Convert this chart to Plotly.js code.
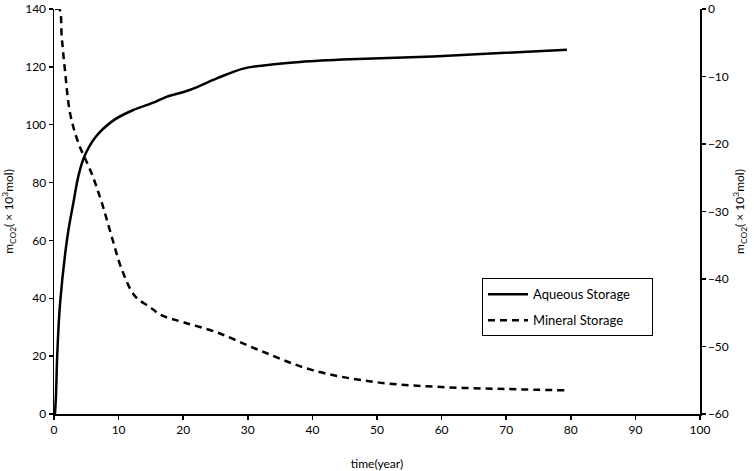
<!DOCTYPE html>
<html>
<head>
<meta charset="utf-8">
<script src="https://cdn.plot.ly/plotly-3.0.1.min.js"></script>
<style>html,body{margin:0;padding:0;background:#fff;}#chart{width:754px;height:471px;}</style>
</head>
<body>
<div id="chart"></div>
<script>
const aqueousTime = [0.15, 0.3, 0.5, 0.95, 2.1, 3.0, 3.8, 4.7, 6.35, 9.2, 12.2, 15.6, 17.4, 21, 25.2, 29.3, 34.5, 38.1, 45.8, 58.7, 79.4];
const aqueousValue = [0, 6, 20.3, 38.5, 61.6, 73, 82.5, 89, 95.5, 101.5, 105, 107.8, 109.6, 112, 116, 119.4, 121, 121.7, 122.6, 123.6, 125.9];
const mineralTime = [0.15, 0.8, 1.2, 1.7, 2.5, 3.8, 5.8, 7.4, 8.9, 10.5, 12.5, 14.9, 16.7, 20, 25.2, 31.9, 40, 50, 60, 70, 79.4];
const mineralValue = [0, 0, -4.2, -9.1, -15.5, -19.9, -24.3, -28.7, -33.6, -38.6, -42.5, -44.2, -45.4, -46.4, -47.9, -50.6, -53.5, -55.3, -56.0, -56.3, -56.5];
const seriesNames = ["Aqueous Storage", "Mineral Storage"];
const xTitle = "time(year)";
const yTitle = "m<sub>CO2</sub>( × 10<sup>3</sup>mol)";

const font = "Lato, 'Open Sans', sans-serif";
const pad = "\u00a0\u00a0\u00a0\u00a0\u00a0";
const traces = [
  {x: aqueousTime, y: aqueousValue, name: seriesNames[0] + pad, legendgroup: "a", type: "scatter", mode: "lines",
   line: {color: "#000", width: 2.5, shape: "spline", smoothing: 1}, yaxis: "y"},
  {x: mineralTime, y: mineralValue, name: seriesNames[1] + pad, legendgroup: "b", type: "scatter", mode: "lines",
   line: {color: "#000", width: 2.5, dash: "7px,5px", shape: "spline", smoothing: 1}, yaxis: "y2"}
];
const axisCommon = {
  showgrid: false, zeroline: false, showline: true, linecolor: "#000", linewidth: 1.5,
  ticks: "outside", ticklen: 4, tickcolor: "#000", tickwidth: 1.5, ticklabeloverflow: "allow",
  tickfont: {family: font, size: 12, color: "#000"}
};
const layout = {
  width: 754, height: 471,
  margin: {l: 54, r: 54, t: 9, b: 57},
  paper_bgcolor: "#fff", plot_bgcolor: "#fff",
  font: {family: font, color: "#000"},
  showlegend: true,
  legend: {x: 0.6625, y: 0.335, xanchor: "left", yanchor: "top",
    bordercolor: "#000", borderwidth: 1, bgcolor: "#fff", itemwidth: 40,
    font: {family: font, size: 13, color: "#000"}, tracegroupgap: 6},
  xaxis: Object.assign({}, axisCommon, {range: [0, 100], dtick: 10,
    title: {text: xTitle, font: {family: font, size: 12}, standoff: 24}}),
  yaxis: Object.assign({}, axisCommon, {range: [0, 140], dtick: 20,
    title: {text: yTitle, font: {family: font, size: 12}, standoff: 12}}),
  yaxis2: Object.assign({}, axisCommon, {range: [-60, 0], dtick: 10, overlaying: "y", side: "right",
    title: {text: yTitle, font: {family: font, size: 12}, standoff: 8}})
};
Plotly.newPlot("chart", traces, layout, {displayModeBar: false, staticPlot: true});
</script>
</body>
</html>
